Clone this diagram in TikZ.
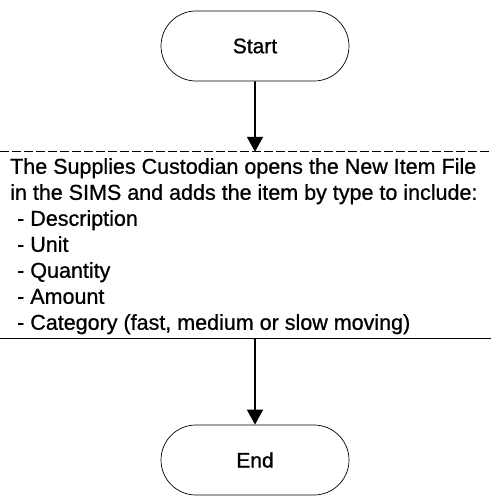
\documentclass[tikz,border=0pt]{standalone}
\usepackage{fontspec}
\setmainfont{Liberation Sans}[FakeBold=0.8]
\usetikzlibrary{arrows.meta,shapes.misc}
\begin{document}
\begin{tikzpicture}[x=1pt,y=1pt,
  terminal/.style={rounded rectangle, draw, line width=0.7pt,
    minimum width=188pt, minimum height=70pt, inner sep=0pt,
    font=\fontsize{21}{25}\selectfont},
  flow/.style={line width=1.7pt, -{Triangle[length=15pt,width=16pt]}},
  rule/.style={line width=0.7pt},
  steptext/.style={anchor=north west, align=left, inner sep=0pt,
    font=\fontsize{21.5}{26}\selectfont}]
\useasboundingbox (0,0) rectangle (491,-496);

% terminals
\node[terminal] (start) at (255,-46) {Start};
\node[terminal] (end) at (255,-460) {End};

% process step: a full-width band ruled above and below
\node[minimum width=491pt, minimum height=186pt, inner sep=0pt] (box) at (245.5,-245) {};
\node[steptext] (desc) at (10,-158) {The Supplies Custodian opens the New Item File\\
in the SIMS and adds the item by type to include:\\
\hspace*{7pt}- Description\\
\hspace*{7pt}- Unit\\
\hspace*{7pt}- Quantity\\
\hspace*{7pt}- Amount\\
\hspace*{7pt}- Category (fast, medium or slow moving)};
\draw[rule, dash pattern=on 9pt off 3pt] (box.north west) -- (box.north east);
\draw[rule] (box.south west) -- (box.south east);

% connectors
\draw[flow] (start) -- (start |- box.north);
\draw[flow] (end |- box.south) -- (end);
\end{tikzpicture}
\end{document}
